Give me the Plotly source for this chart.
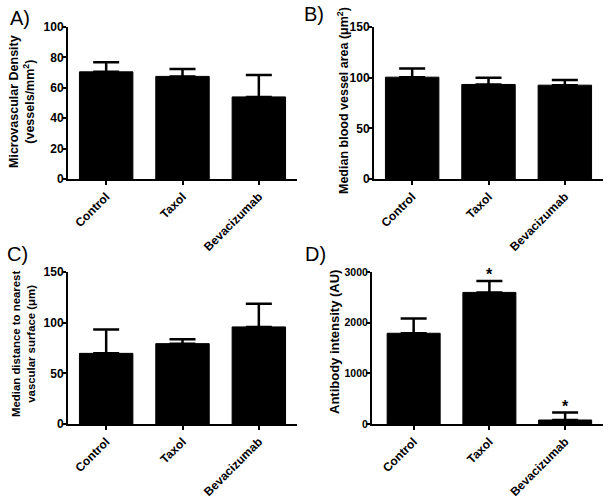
import plotly.graph_objects as go

categories = ["Control", "Taxol", "Bevacizumab"]

mvd_values = [70.5, 67.5, 54.0]
mvd_errors = [6.3, 4.9, 14.4]

area_values = [100.5, 93.3, 92.6]
area_errors = [8.5, 6.5, 5.2]

dist_values = [69.7, 79.3, 95.8]
dist_errors = [23.5, 4.3, 22.8]

ab_values = [1791, 2597, 79]
ab_errors = [290, 225, 146]
ab_significant = [False, True, True]

y_titles = [
    "Microvascular Density<br>(vessels/mm<sup>2</sup>)",
    "Median blood vessel area (μm<sup>2</sup>)",
    "Median distance to nearest<br>vascular surface (μm)",
    "Antibody intensity (AU)",
]

FONT = "Liberation Sans, Arial, sans-serif"

fig = go.Figure()

panels = [
    (mvd_values, mvd_errors, "x", "y"),
    (area_values, area_errors, "x2", "y2"),
    (dist_values, dist_errors, "x3", "y3"),
    (ab_values, ab_errors, "x4", "y4"),
]
for vals, errs, xa, ya in panels:
    fig.add_trace(go.Bar(
        x=categories, y=vals, xaxis=xa, yaxis=ya, width=0.7,
        marker=dict(color="black", line=dict(color="black", width=1)),
        error_y=dict(type="data", symmetric=False, array=errs,
                     arrayminus=[0] * len(errs), color="black",
                     thickness=2.5, width=13),
        showlegend=False, hoverinfo="skip",
    ))

def xax(domain, anchor, rng):
    return dict(domain=domain, anchor=anchor, type="category", range=rng,
                automargin=False, fixedrange=True,
                showline=True, linecolor="black", linewidth=2,
                ticks="outside", ticklen=4, tickwidth=2, tickcolor="black",
                tickangle=-45, showgrid=False, zeroline=False,
                tickfont=dict(family=FONT, size=12, color="black", weight="bold"))

def yax(domain, anchor, rng, dtick, fs=12):
    return dict(domain=domain, anchor=anchor, range=rng, dtick=dtick,
                automargin=False, fixedrange=True,
                showline=True, linecolor="black", linewidth=2,
                ticks="outside", ticklen=4, tickwidth=2, tickcolor="black",
                ticklabelstandoff=-4,
                showgrid=False, zeroline=False,
                tickfont=dict(family=FONT, size=fs, color="black", weight="bold"))

W, H = 612, 500
def xd(a, b):
    return [a / W, b / W]
def yd(top, bottom):
    return [1 - bottom / H, 1 - top / H]

fig.update_layout(
    width=W, height=H,
    margin=dict(l=0, r=0, t=0, b=0),
    paper_bgcolor="white", plot_bgcolor="white",
    xaxis=xax(xd(68, 297), "y", [-0.5, 2.5]),
    yaxis=yax(yd(27, 179), "x", [0, 100], 20),
    xaxis2=xax(xd(374, 603), "y2", [-0.5, 2.5]),
    yaxis2=yax(yd(27, 179), "x2", [0, 150], 50),
    xaxis3=xax(xd(68, 297), "y3", [-0.5, 2.5]),
    yaxis3=yax(yd(272, 424), "x3", [0, 150], 50),
    xaxis4=xax(xd(372, 603), "y4", [-0.55, 2.5]),
    yaxis4=yax(yd(272, 424), "x4", [0, 3000], 1000, fs=10.5),
)

# y-axis titles placed as rotated text (centre x, centre y in px, font size)
title_pos = [(22, 102, 12.5), (343, 101, 12.5), (23, 344, 11.4), (334, 342, 13)]
for txt, (px, py, fs) in zip(y_titles, title_pos):
    fig.add_annotation(text=txt, xref="paper", yref="paper",
                       x=px / W, y=1 - py / H, xanchor="center", yanchor="middle",
                       textangle=-90, showarrow=False,
                       font=dict(family=FONT, size=fs, color="black", weight="bold"))

labels = [("A)", 8, 5), ("B)", 302, 1), ("C)", 5, 241), ("D)", 303, 241)]
for txt, px, py in labels:
    fig.add_annotation(text=txt, xref="paper", yref="paper",
                       x=px / W, y=1 - py / H, xanchor="left", yanchor="top",
                       showarrow=False,
                       font=dict(family=FONT, size=20, color="black"))

for cat, v, e, sig in zip(categories, ab_values, ab_errors, ab_significant):
    if sig:
        fig.add_annotation(text="*", x=cat, y=v + e, xref="x4", yref="y4",
                           yanchor="bottom", showarrow=False, yshift=-4,
                           font=dict(family=FONT, size=16, color="black", weight="bold"))

fig.write_html("out.html", config={"displayModeBar": False, "staticPlot": True},
               post_script="document.body.style.margin='0';document.body.style.overflow='hidden';")
